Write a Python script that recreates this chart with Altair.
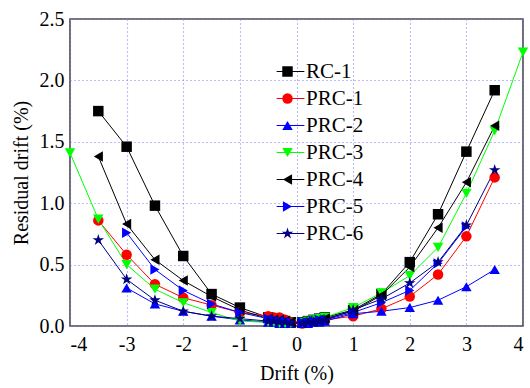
import altair as alt
import pandas as pd

# ---- data ----
series_names = ["RC-1", "PRC-1", "PRC-2", "PRC-3", "PRC-4", "PRC-5", "PRC-6"]
series_colors = ["#000000", "#FF0000", "#0000FF", "#00FF00", "#000000", "#0000FF", "#000080"]
STAR = "M0,-1.15L0.26,-0.355L1.09,-0.355L0.42,0.135L0.68,0.93L0,0.44L-0.68,0.93L-0.42,0.135L-1.09,-0.355L-0.26,-0.355Z"
series_shapes = ["square", "circle", "triangle-up", "triangle-down", "triangle-left", "triangle-right", STAR]

near0_x = [-0.5, -0.4, -0.3, -0.2, -0.1, 0.1, 0.2, 0.3, 0.4, 0.5]

rc1_x = [-3.5, -3, -2.5, -2, -1.5, -1] + near0_x + [1, 1.5, 2, 2.5, 3, 3.5]
rc1_y = [1.75, 1.46, 0.98, 0.57, 0.26, 0.15, 0.07, 0.06, 0.05, 0.04, 0.03, 0.03, 0.04, 0.05, 0.06, 0.07, 0.13, 0.26, 0.52, 0.91, 1.42, 1.92]

prc1_x = [-3.5, -3, -2.5, -2, -1.5, -1] + near0_x + [1, 1.5, 2, 2.5, 3, 3.5]
prc1_y = [0.86, 0.58, 0.34, 0.23, 0.17, 0.11, 0.08, 0.07, 0.07, 0.05, 0.03, 0.02, 0.03, 0.04, 0.04, 0.05, 0.08, 0.14, 0.24, 0.42, 0.73, 1.21]

prc2_x = [-3, -2.5, -2, -1.5, -1] + near0_x + [1, 1.5, 2, 2.5, 3, 3.5]
prc2_y = [0.31, 0.18, 0.12, 0.08, 0.05, 0.03, 0.03, 0.02, 0.02, 0.02, 0.02, 0.02, 0.03, 0.03, 0.04, 0.10, 0.12, 0.15, 0.21, 0.32, 0.46]

prc3_x = [-4, -3.5, -3, -2.5, -2, -1.5, -1] + near0_x + [1, 1.5, 2, 2.5, 3, 3.5, 4]
prc3_y = [1.41, 0.87, 0.50, 0.30, 0.19, 0.11, 0.04, 0.03, 0.03, 0.02, 0.02, 0.02, 0.03, 0.04, 0.05, 0.06, 0.07, 0.15, 0.27, 0.41, 0.64, 1.08, 1.59, 2.23]

prc4_x = [-3.5, -3, -2.5, -2, -1.5, -1] + near0_x + [1, 1.5, 2, 2.5, 3, 3.5]
prc4_y = [1.38, 0.83, 0.54, 0.37, 0.24, 0.13, 0.06, 0.05, 0.05, 0.04, 0.03, 0.03, 0.04, 0.04, 0.05, 0.06, 0.12, 0.25, 0.48, 0.80, 1.17, 1.63]

prc5_x = [-3, -2.5, -2, -1.5, -1] + near0_x + [1, 1.5, 2, 2.5, 3]
prc5_y = [0.76, 0.46, 0.29, 0.18, 0.11, 0.06, 0.05, 0.04, 0.04, 0.03, 0.03, 0.03, 0.04, 0.05, 0.05, 0.11, 0.19, 0.29, 0.51, 0.81]

prc6_x = [-3.5, -3, -2.5, -2, -1.5, -1] + near0_x + [1, 1.5, 2, 2.5, 3, 3.5]
prc6_y = [0.70, 0.38, 0.21, 0.12, 0.08, 0.06, 0.04, 0.04, 0.03, 0.03, 0.02, 0.02, 0.03, 0.03, 0.04, 0.05, 0.13, 0.22, 0.35, 0.52, 0.82, 1.27]

all_x = [rc1_x, prc1_x, prc2_x, prc3_x, prc4_x, prc5_x, prc6_x]
all_y = [rc1_y, prc1_y, prc2_y, prc3_y, prc4_y, prc5_y, prc6_y]

rows = []
for name, xs, ys in zip(series_names, all_x, all_y):
    for xv, yv in zip(xs, ys):
        rows.append({"series": name, "key": name + " ", "drift": xv, "resid": yv})
df = pd.DataFrame(rows)
line_keys = [n + " " for n in series_names]

FONT = "Liberation Serif"
LX, LY = 207, 42
LEG_FS, LEG_PAD = 21, 5

x_enc = alt.X("drift:Q", scale=alt.Scale(domain=[-4, 4], nice=False),
              axis=alt.Axis(title="Drift (%)", values=[-4, -3, -2, -1, 0, 1, 2, 3, 4],
                            labelExpr="'' + datum.value"))
y_enc = alt.Y("resid:Q", scale=alt.Scale(domain=[0, 2.5], nice=False),
              axis=alt.Axis(title="Residual drift (%)", values=[0, 0.5, 1.0, 1.5, 2.0, 2.5],
                            format=".1f"))

# line-key legend (separate domain so it never merges with the marker legend)
lines = alt.Chart(df).mark_line(strokeWidth=1).encode(
    x=x_enc, y=y_enc,
    stroke=alt.Stroke("key:N",
                      scale=alt.Scale(domain=line_keys, range=series_colors),
                      legend=alt.Legend(title=None, orient="none", legendX=LX + 3, legendY=LY,
                                        symbolType="M-6.2,0H6.2", symbolSize=20,
                                        symbolStrokeWidth=1, labelOpacity=0,
                                        labelExpr="''",
                                        labelFontSize=LEG_FS, labelFont=FONT,
                                        rowPadding=LEG_PAD)),
    order="drift:Q",
    detail="series:N",
)

mk_legend = alt.Legend(title=None, orient="none", legendX=LX, legendY=LY,
                       symbolSize=110, symbolStrokeWidth=0,
                       labelFontSize=LEG_FS, labelFont=FONT, labelColor="#000000",
                       labelOffset=8, rowPadding=LEG_PAD)

points = alt.Chart(df).mark_point(filled=True, size=110, opacity=1).encode(
    x=x_enc, y=y_enc,
    fill=alt.Fill("series:N",
                  scale=alt.Scale(domain=series_names, range=series_colors),
                  legend=mk_legend),
    shape=alt.Shape("series:N",
                    scale=alt.Scale(domain=series_names, range=series_shapes),
                    legend=mk_legend),
)

chart = alt.layer(lines, points).resolve_scale(stroke="independent").properties(
    width=453, height=307,
    padding={"left": 70, "top": 19, "right": 7, "bottom": 62},
    autosize="none",
    background="white",
).configure_view(
    stroke="#4a4a4a", strokeWidth=1.6
).configure_axis(
    grid=True, gridColor="#7b7bff", gridDash=[1, 3], gridWidth=1.1,
    domain=False, ticks=False,
    labelFont=FONT, labelFontSize=20, labelColor="#000000",
    titleFont=FONT, titleFontSize=20, titleFontWeight="normal", titleColor="#000000",
).configure_axisX(
    labelPadding=8, titlePadding=9
).configure_axisY(
    labelPadding=6, titlePadding=8
)

chart.save("out.html", embed_options={"renderer": "svg", "actions": False})
